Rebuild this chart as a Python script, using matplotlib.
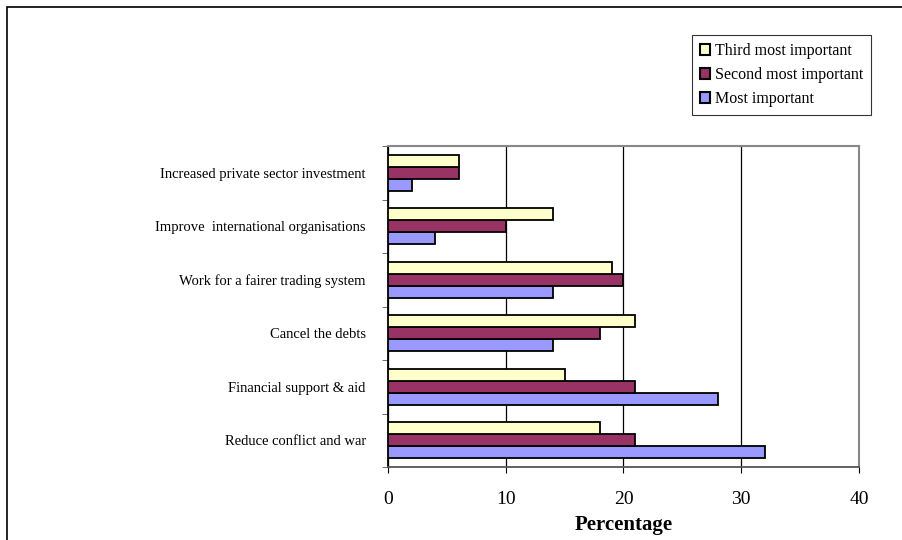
import numpy as np
import matplotlib.pyplot as plt
from matplotlib.patches import Rectangle

# categories bottom to top
categories = ['Reduce conflict and war', 'Financial support & aid', 'Cancel the debts',
              'Work for a fairer trading system', 'Improve  international organisations',
              'Increased private sector investment']
most_important = [32, 28, 14, 14, 4, 2]
second_important = [21, 21, 18, 20, 10, 6]
third_important = [18, 15, 21, 19, 14, 6]
x_ticks = [0, 10, 20, 30, 40]

plt.rcParams['font.family'] = ['Liberation Serif', 'DejaVu Serif']

fig = plt.figure(figsize=(9.03, 5.4), dpi=100)
# outer frame of the chart (right and bottom run off the image)
fig.patches.append(Rectangle((7 / 903, -0.05), 1.05, 1.05 - 7 / 540, transform=fig.transFigure,
                             fill=False, edgecolor='black', linewidth=1.2))

ax = fig.add_axes([388 / 903, 1 - 467 / 540, (859 - 388) / 903, (467 - 146) / 540])

y = np.arange(len(categories))
h = 0.225
ax.barh(y - h, most_important, height=h, color='#9999FF', edgecolor='black', linewidth=1.3,
        label='Most important', zorder=3)
ax.barh(y, second_important, height=h, color='#993366', edgecolor='black', linewidth=1.3,
        label='Second most important', zorder=3)
ax.barh(y + h, third_important, height=h, color='#FFFFCC', edgecolor='black', linewidth=1.3,
        label='Third most important', zorder=3)

ax.set_xlim(0, 40)
ax.set_ylim(-0.5, len(categories) - 0.5)
ax.set_xticks(x_ticks)
ax.tick_params(axis='x', labelsize=14, length=4, direction='out', pad=13)
ax.set_xlabel('Percentage', fontsize=15, fontweight='bold', labelpad=5)

ax.set_yticks(y)
ax.set_yticklabels(categories, fontsize=10.5)
ax.tick_params(axis='y', length=0, pad=16)
ax.set_yticks(np.arange(-0.5, len(categories), 1), minor=True)
ax.tick_params(axis='y', which='minor', length=4, direction='out', color='#555555')

ax.grid(axis='x', color='black', linewidth=0.9, zorder=0)
for side in ['top', 'right']:
    ax.spines[side].set_color('#888888')
    ax.spines[side].set_linewidth(1.5)
ax.spines['bottom'].set_color('#555555')
ax.spines['bottom'].set_linewidth(1.3)
ax.spines['left'].set_linewidth(1.3)

handles, labels = ax.get_legend_handles_labels()
leg = fig.legend(handles[::-1], labels[::-1], loc='upper left',
                 bbox_to_anchor=(692 / 903, 1 - 35 / 540), fontsize=11.5,
                 frameon=True, fancybox=False, edgecolor='black', handlelength=0.65,
                 handleheight=0.65, handletextpad=0.3, labelspacing=0.5,
                 borderpad=0.5, borderaxespad=0)
leg.get_frame().set_linewidth(0.8)
for patch in leg.get_patches():
    patch.set_linewidth(1.5)

fig.savefig('out.png', dpi=100)
